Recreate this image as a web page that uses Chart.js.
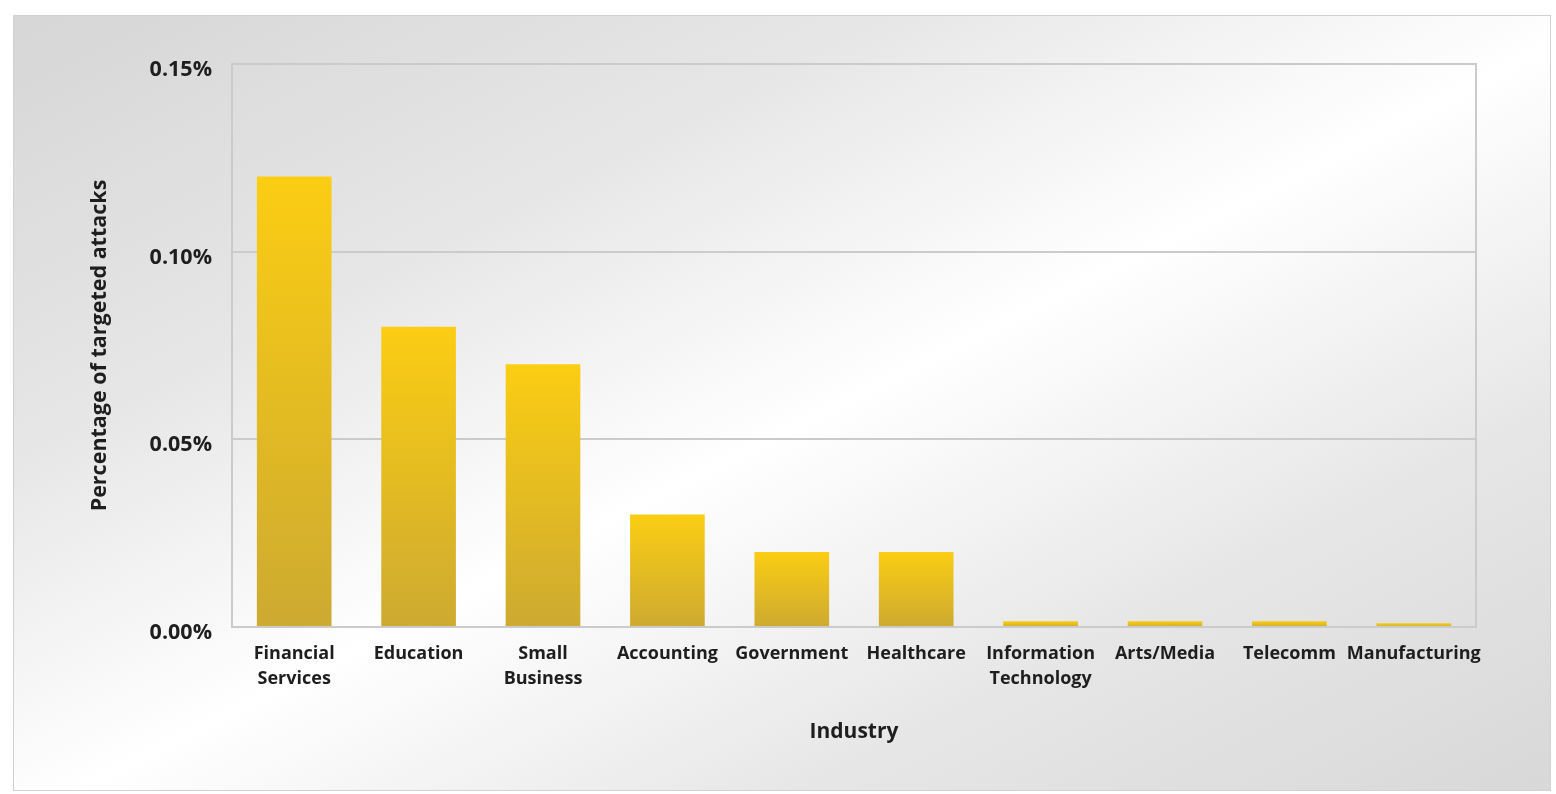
<!DOCTYPE html>
<html>
<head>
<meta charset="utf-8">
<script src="https://cdn.jsdelivr.net/npm/chart.js@4.4.0/dist/chart.umd.min.js"></script>
<style>
  html, body { margin: 0; padding: 0; background: #fff; }
  #wrap { position: relative; width: 1556px; height: 794px; overflow: hidden; }
  #panel {
    position: absolute; left: 13px; top: 15px; width: 1536px; height: 774px;
    border: 1px solid #d2d2d2;
    background: linear-gradient(to bottom right, #d6d6d6 0%, #e6e6e6 28%, #ffffff 52%, #e6e6e6 76%, #d8d8d8 100%);
  }
  #chartSerangan { position: absolute; left: 0; top: 0; }
</style>
</head>
<body>
<div id="wrap">
  <div id="panel"></div>
  <canvas id="chartSerangan" width="1556" height="794"></canvas>
</div>
<script>
const industri = [
  ['Financial', 'Services'], 'Education', ['Small', 'Business'], 'Accounting', 'Government',
  'Healthcare', ['Information', 'Technology'], 'Arts/Media', 'Telecomm', 'Manufacturing'
];
// persen serangan tertarget per industri
const persenSerangan = [0.12, 0.08, 0.07, 0.03, 0.02, 0.02, 0.0015, 0.0015, 0.0015, 0.001];
const tickY = [0, 0.05, 0.10, 0.15];

// bingkai area plot (atas, kanan, kiri, bawah)
const bingkaiPlot = {
  id: 'bingkaiPlot',
  beforeDatasetsDraw(chart) {
    const a = chart.chartArea, c = chart.ctx;
    c.save();
    c.strokeStyle = '#cbcbcb';
    c.lineWidth = 2;
    c.strokeRect(a.left, a.top, a.right - a.left, a.bottom - a.top);
    c.restore();
  }
};

function warnaBatang(context) {
  const chart = context.chart;
  const area = chart.chartArea;
  if (!area) return '#e8bd1e';
  const y = chart.scales.y;
  const atas = y.getPixelForValue(context.raw);
  const bawah = y.getPixelForValue(0);
  if (!(bawah - atas > 1)) return '#e6bb22';
  const g = chart.ctx.createLinearGradient(0, atas, 0, bawah);
  g.addColorStop(0, '#fbcd13');
  g.addColorStop(1, '#cdaa31');
  return g;
}

const ctx = document.getElementById('chartSerangan').getContext('2d');
new Chart(ctx, {
  type: 'bar',
  data: {
    labels: industri,
    datasets: [{
      label: 'Percentage of targeted attacks',
      data: persenSerangan,
      backgroundColor: warnaBatang,
      borderWidth: 0,
      barPercentage: 0.6,
      categoryPercentage: 1.0
    }]
  },
  options: {
    responsive: false,
    animation: false,
    layout: { padding: { left: 0, top: 64, right: 80, bottom: 0 } },
    plugins: {
      legend: { display: false },
      tooltip: { enabled: false }
    },
    scales: {
      x: {
        afterFit(scale) { scale.height = 167; },
        grid: { display: false, drawTicks: false },
        border: { display: false },
        ticks: {
          color: '#1e1e1e',
          padding: 15,
          maxRotation: 0,
          autoSkip: false,
          font: { family: 'Open Sans', size: 18, weight: 'bold', lineHeight: 1.35 }
        },
        title: {
          display: true,
          text: 'Industry',
          color: '#1e1e1e',
          padding: { top: 0, bottom: 49 },
          font: { family: 'Open Sans', size: 21, weight: 'bold' }
        }
      },
      y: {
        min: 0,
        max: 0.15,
        afterFit(scale) { scale.width = 232; },
        afterBuildTicks(scale) { scale.ticks = tickY.map(v => ({ value: v })); },
        grid: { color: '#cbcbcb', lineWidth: 2, drawTicks: false },
        border: { display: false },
        ticks: {
          color: '#1e1e1e',
          padding: 20,
          labelOffset: 6,
          font: { family: 'Open Sans', size: 21.5, weight: 'bold' },
          callback: v => v.toFixed(2) + '%'
        },
        title: {
          display: true,
          text: 'Percentage of targeted attacks',
          color: '#1e1e1e',
          padding: { top: 87, bottom: 0 },
          font: { family: 'Open Sans', size: 21.5, weight: 'bold' }
        }
      }
    }
  },
  plugins: [bingkaiPlot]
});
</script>
</body>
</html>
